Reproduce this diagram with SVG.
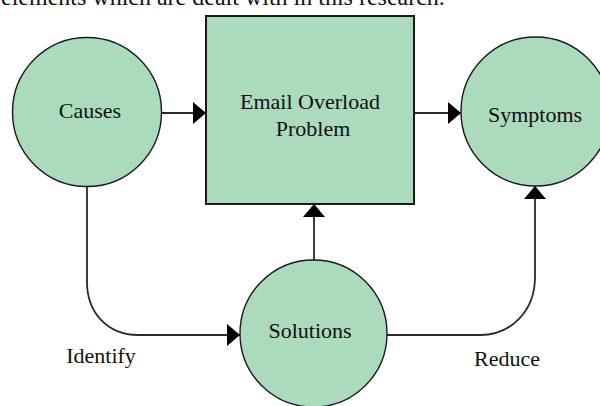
<svg xmlns="http://www.w3.org/2000/svg" width="600" height="406" viewBox="0 0 600 406">
  <style>
    .node { fill: #acdabd; stroke: #1a1a1a; stroke-width: 1.4; }
    .box { fill: #acdabd; stroke: #1a1a1a; stroke-width: 2; }
    .lbl { font-family: "Liberation Serif", "Times New Roman", serif; font-size: 22px; fill: #111; text-anchor: middle; }
    .conn { fill: none; stroke: #2a2a2a; stroke-width: 1.8; }
    .top { font-family: "Liberation Serif", "Times New Roman", serif; font-size: 24px; fill: #111; }
  </style>
  <defs>
    <marker id="arrow" markerUnits="userSpaceOnUse" markerWidth="13" markerHeight="22" refX="13" refY="11" orient="auto">
      <path d="M0,0 L13,11 L0,22 Z" fill="#000"/>
    </marker>
  </defs>
  <rect width="600" height="406" fill="#ffffff"/>
  <text class="top" x="1" y="5">elements which are dealt with in this research.</text>

  <g id="connectors">
    <path class="conn" d="M162,113 H206" marker-end="url(#arrow)"/>
    <path class="conn" d="M414,113 H461" marker-end="url(#arrow)"/>
    <path class="conn" d="M314,260 V204" marker-end="url(#arrow)"/>
    <path class="conn" d="M87,186 V282 C87,313 108,335 138,335 H240" marker-end="url(#arrow)"/>
    <path class="conn" d="M387,335 H480 C510,335 535,312 535,277 V186" marker-end="url(#arrow)"/>
    <text class="lbl" x="101" y="363">Identify</text>
    <text class="lbl" x="507" y="366">Reduce</text>
  </g>

  <g id="causes">
    <circle class="node" cx="87" cy="112" r="74.5"/>
    <text class="lbl" x="90" y="118">Causes</text>
  </g>

  <g id="email-overload-problem">
    <rect class="box" x="206" y="16" width="208" height="188"/>
    <text class="lbl" x="310" y="109">Email Overload</text>
    <text class="lbl" x="313" y="136">Problem</text>
  </g>

  <g id="symptoms">
    <circle class="node" cx="535.5" cy="111.5" r="74.5"/>
    <text class="lbl" x="535" y="122">Symptoms</text>
  </g>

  <g id="solutions">
    <circle class="node" cx="313.5" cy="333.5" r="73.5"/>
    <text class="lbl" x="310" y="338">Solutions</text>
  </g>
</svg>
